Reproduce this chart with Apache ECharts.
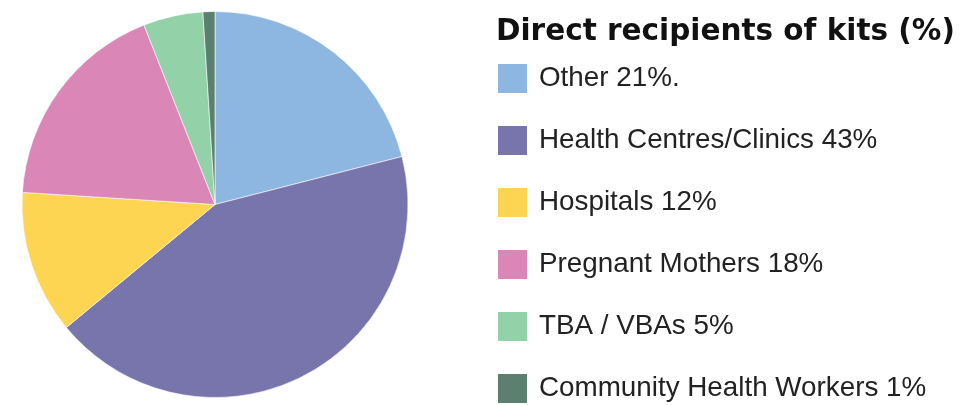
<!DOCTYPE html>
<html>
<head>
<meta charset="utf-8">
<script src="https://cdn.jsdelivr.net/npm/echarts@6/dist/echarts.min.js"></script>
<style>
    html, body { margin: 0; padding: 0; background: #ffffff; }
    #chart { width: 961px; height: 405px; }
</style>
</head>
<body>
<div id="chart"></div>
<script>
    // data
    let categories = ['Other', 'Health Centres/Clinics', 'Hospitals', 'Pregnant Mothers', 'TBA / VBAs', 'Community Health Workers']
    let shares = [21, 43, 12, 18, 5, 1]
    let legendLabels = ['Other 21%.', 'Health Centres/Clinics 43%', 'Hospitals 12%', 'Pregnant Mothers 18%', 'TBA / VBAs 5%', 'Community Health Workers 1%']
    let colors = ['#8db6e1', '#7775ab', '#fed553', '#da86b6', '#93d1a9', '#5b8070']

    let myChart = echarts.init(document.getElementById('chart'), null, {renderer: 'canvas'})

    let pieData = categories.map(function (c, i) {
        return {name: c, value: shares[i]}
    })

    myChart.setOption({
        animation: false,
        color: colors,
        title: {
            text: 'Direct recipients of kits (%)',
            left: 496,
            top: 17,
            padding: 0,
            textStyle: {
                fontFamily: 'DejaVu Sans',
                fontWeight: 'bold',
                fontSize: 29.5,
                color: '#111111'
            }
        },
        legend: {
            orient: 'vertical',
            left: 496,
            top: 62,
            bottom: 0,
            padding: 0,
            itemWidth: 31,
            itemHeight: 31,
            itemGap: 29,
            icon: 'rect',
            data: categories,
            formatter: function (name) {
                return legendLabels[categories.indexOf(name)]
            },
            textStyle: {
                fontFamily: 'Liberation Sans',
                fontSize: 27.8,
                lineHeight: 25,
                color: '#222222',
                padding: [6, 0, 0, 6]
            }
        },
        series: [{
            type: 'pie',
            center: [215, 204.5],
            radius: [0, 193],
            startAngle: 90,
            clockwise: true,
            label: {show: false},
            labelLine: {show: false},
            emphasis: {disabled: true},
            itemStyle: {borderColor: '#ffffff', borderWidth: 0.6},
            data: pieData
        }]
    })
</script>
</body>
</html>
